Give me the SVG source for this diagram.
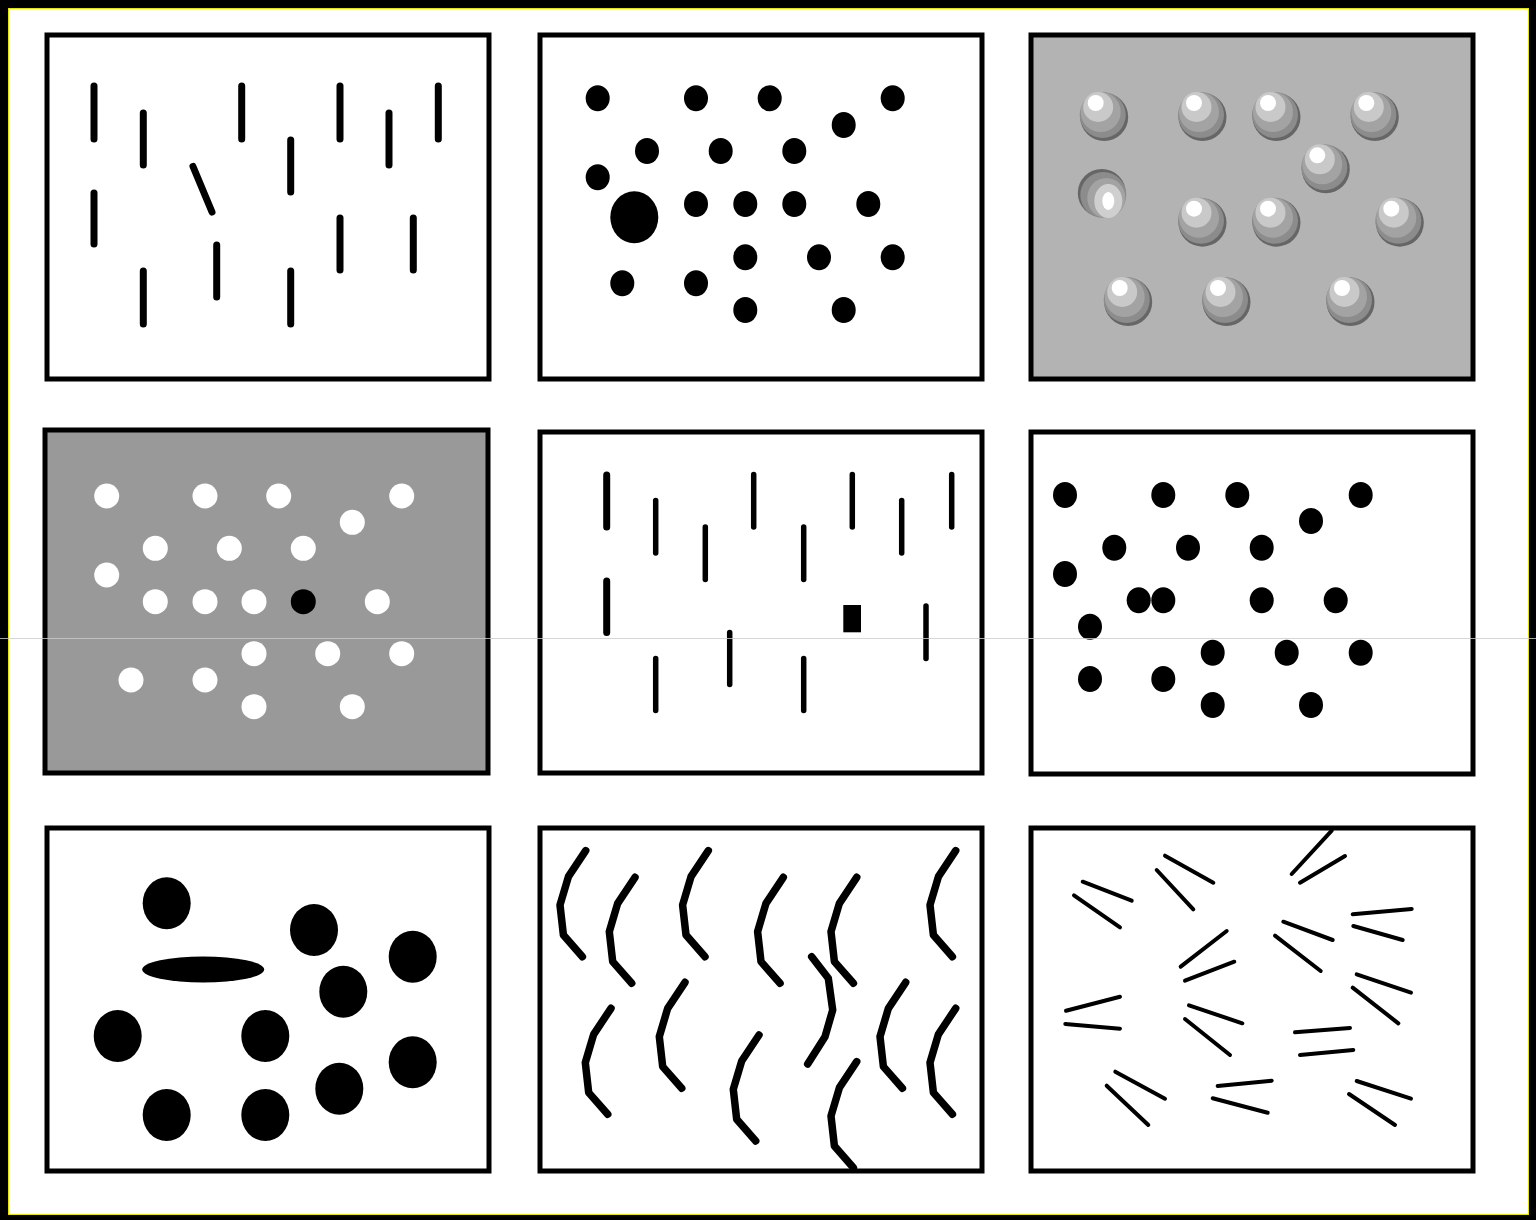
<svg xmlns="http://www.w3.org/2000/svg" width="1536" height="1220" viewBox="0 0 1536 1220">
<style>
.frame{fill:#fff;stroke:#000;stroke-width:5}
.bar{stroke:#000;stroke-width:7;stroke-linecap:round}
.tbar{stroke:#000;stroke-width:5.5;stroke-linecap:round}
.dot{fill:#000}
.wdot{fill:#fff}
.curve{fill:none;stroke:#000;stroke-width:7.5;stroke-linecap:round;stroke-linejoin:round}
.seg{stroke:#000;stroke-width:4;stroke-linecap:round}
</style>
<defs>
<g id="sph">
<circle cx="1.5" cy="2" r="24" fill="#666"/>
<circle cx="0" cy="0" r="23" fill="#8c8c8c"/>
<circle cx="-2" cy="-3" r="20" fill="#a3a3a3"/>
<circle cx="-4.5" cy="-8" r="15" fill="#c9c9c9"/>
<circle cx="-7" cy="-12" r="8" fill="#fff"/>
</g>
<path id="crv" d="M0,0 L-17.3,26 L-25.7,54.3 L-22.3,84.3 L-3.3,106"/>
</defs>
<rect x="0" y="0" width="1536" height="1220" fill="#000"/>
<rect x="8.5" y="8.5" width="1520" height="1206" fill="#fff" stroke="#e6e600" stroke-width="1"/>

<g id="panel-a">
<rect class="frame" x="47" y="35" width="442" height="344"/>
<line class="bar" x1="94" y1="86" x2="94" y2="139"/>
<line class="bar" x1="143.3" y1="113" x2="143.3" y2="165"/>
<line class="bar" x1="241.7" y1="86" x2="241.7" y2="139"/>
<line class="bar" x1="290.7" y1="140" x2="290.7" y2="192"/>
<line class="bar" x1="340" y1="86" x2="340" y2="139"/>
<line class="bar" x1="389" y1="113" x2="389" y2="165"/>
<line class="bar" x1="438.3" y1="86" x2="438.3" y2="139"/>
<line class="bar" x1="94" y1="193" x2="94" y2="244"/>
<line class="bar" x1="193" y1="166.5" x2="212" y2="212"/>
<line class="bar" x1="340" y1="218" x2="340" y2="270"/>
<line class="bar" x1="413.3" y1="218" x2="413.3" y2="270"/>
<line class="bar" x1="143.3" y1="271" x2="143.3" y2="324"/>
<line class="bar" x1="216.7" y1="245" x2="216.7" y2="297"/>
<line class="bar" x1="290.7" y1="271" x2="290.7" y2="324"/>
</g>

<g id="panel-b">
<rect class="frame" x="540" y="35" width="442" height="344"/>
<g class="dot">
<ellipse cx="597.7" cy="98.3" rx="12" ry="13"/>
<ellipse cx="696" cy="98.3" rx="12" ry="13"/>
<ellipse cx="769.7" cy="98.3" rx="12" ry="13"/>
<ellipse cx="892.7" cy="98.3" rx="12" ry="13"/>
<ellipse cx="843.7" cy="125" rx="12" ry="13"/>
<ellipse cx="647" cy="151" rx="12" ry="13"/>
<ellipse cx="720.7" cy="151" rx="12" ry="13"/>
<ellipse cx="794.3" cy="151" rx="12" ry="13"/>
<ellipse cx="597.7" cy="177.3" rx="12" ry="13"/>
<ellipse cx="634.3" cy="217.3" rx="24" ry="26"/>
<ellipse cx="696" cy="204" rx="12" ry="13"/>
<ellipse cx="745.3" cy="204" rx="12" ry="13"/>
<ellipse cx="794.3" cy="204" rx="12" ry="13"/>
<ellipse cx="868.3" cy="204" rx="12" ry="13"/>
<ellipse cx="745.3" cy="257.3" rx="12" ry="13"/>
<ellipse cx="819" cy="257.3" rx="12" ry="13"/>
<ellipse cx="892.7" cy="257.3" rx="12" ry="13"/>
<ellipse cx="622.3" cy="283.3" rx="12" ry="13"/>
<ellipse cx="696" cy="283.3" rx="12" ry="13"/>
<ellipse cx="745.3" cy="310" rx="12" ry="13"/>
<ellipse cx="843.7" cy="310" rx="12" ry="13"/>
</g>
</g>

<g id="panel-c">
<rect class="frame" x="1031" y="35" width="442" height="344" style="fill:#b3b3b3"/>
<use href="#sph" x="1102.7" y="115"/>
<use href="#sph" x="1201" y="115"/>
<use href="#sph" x="1275" y="115"/>
<use href="#sph" x="1373.3" y="115"/>
<use href="#sph" x="1324.3" y="167.3"/>
<use href="#sph" x="1201" y="220.7"/>
<use href="#sph" x="1275" y="220.7"/>
<use href="#sph" x="1398.3" y="220.7"/>
<use href="#sph" x="1126.7" y="300"/>
<use href="#sph" x="1225" y="300"/>
<use href="#sph" x="1349" y="300"/>
<g transform="translate(1103.3,195)">
<circle cx="-1.5" cy="-2" r="24" fill="#666"/>
<circle cx="0" cy="0" r="23" fill="#8c8c8c"/>
<ellipse cx="3" cy="3" rx="19" ry="20" fill="#a3a3a3"/>
<ellipse cx="5" cy="6" rx="14" ry="17" fill="#cfcfcf"/>
<ellipse cx="5" cy="6" rx="6" ry="9" fill="#fff"/>
</g>
</g>

<g id="panel-d">
<rect class="frame" x="45" y="430" width="443" height="343" style="fill:#999"/>
<g class="wdot">
<circle cx="106.7" cy="496" r="12.5"/>
<circle cx="205" cy="496" r="12.5"/>
<circle cx="278.7" cy="496" r="12.5"/>
<circle cx="401.7" cy="496" r="12.5"/>
<circle cx="352.3" cy="522.3" r="12.5"/>
<circle cx="155.3" cy="548.3" r="12.5"/>
<circle cx="229.3" cy="548.3" r="12.5"/>
<circle cx="303.3" cy="548.3" r="12.5"/>
<circle cx="106.7" cy="575" r="12.5"/>
<circle cx="155.3" cy="601.7" r="12.5"/>
<circle cx="205" cy="601.7" r="12.5"/>
<circle cx="254" cy="601.7" r="12.5"/>
<circle cx="377.3" cy="601.7" r="12.5"/>
<circle cx="254" cy="653.7" r="12.5"/>
<circle cx="327.7" cy="653.7" r="12.5"/>
<circle cx="401.7" cy="653.7" r="12.5"/>
<circle cx="131" cy="680" r="12.5"/>
<circle cx="205" cy="680" r="12.5"/>
<circle cx="254" cy="706.7" r="12.5"/>
<circle cx="352.3" cy="706.7" r="12.5"/>
</g>
<circle class="dot" cx="303.3" cy="601.7" r="12.5"/>
</g>

<g id="panel-e">
<rect class="frame" x="540" y="432" width="442" height="341"/>
<line class="bar" x1="606.7" y1="475" x2="606.7" y2="527"/>
<line class="tbar" x1="655.7" y1="500.5" x2="655.7" y2="553"/>
<line class="tbar" x1="705.3" y1="527" x2="705.3" y2="579.5"/>
<line class="tbar" x1="753.7" y1="474.5" x2="753.7" y2="527"/>
<line class="tbar" x1="803.7" y1="527" x2="803.7" y2="579.5"/>
<line class="tbar" x1="852.3" y1="474.5" x2="852.3" y2="527"/>
<line class="tbar" x1="901.7" y1="500.5" x2="901.7" y2="553"/>
<line class="tbar" x1="951.7" y1="474.5" x2="951.7" y2="527"/>
<line class="bar" x1="606.7" y1="581" x2="606.7" y2="632.5"/>
<rect x="843.3" y="605" width="17.7" height="27.3" fill="#000"/>
<line class="tbar" x1="926" y1="606" x2="926" y2="658.5"/>
<line class="tbar" x1="655.7" y1="658.5" x2="655.7" y2="710.5"/>
<line class="tbar" x1="729.7" y1="632.5" x2="729.7" y2="684.5"/>
<line class="tbar" x1="803.7" y1="658.5" x2="803.7" y2="710.5"/>
</g>

<g id="panel-f">
<rect class="frame" x="1031" y="432" width="442" height="342"/>
<g class="dot">
<ellipse cx="1065" cy="495" rx="12" ry="13"/>
<ellipse cx="1163.3" cy="495" rx="12" ry="13"/>
<ellipse cx="1237.3" cy="495" rx="12" ry="13"/>
<ellipse cx="1360.7" cy="495" rx="12" ry="13"/>
<ellipse cx="1311" cy="521" rx="12" ry="13"/>
<ellipse cx="1114.3" cy="547.7" rx="12" ry="13"/>
<ellipse cx="1188" cy="547.7" rx="12" ry="13"/>
<ellipse cx="1261.7" cy="547.7" rx="12" ry="13"/>
<ellipse cx="1065" cy="574" rx="12" ry="13"/>
<ellipse cx="1138.7" cy="600.3" rx="12" ry="13"/>
<ellipse cx="1163.3" cy="600.3" rx="12" ry="13"/>
<ellipse cx="1261.7" cy="600.3" rx="12" ry="13"/>
<ellipse cx="1335.7" cy="600.3" rx="12" ry="13"/>
<ellipse cx="1090" cy="626.7" rx="12" ry="13"/>
<ellipse cx="1212.7" cy="652.7" rx="12" ry="13"/>
<ellipse cx="1286.7" cy="652.7" rx="12" ry="13"/>
<ellipse cx="1360.7" cy="652.7" rx="12" ry="13"/>
<ellipse cx="1090" cy="679" rx="12" ry="13"/>
<ellipse cx="1163.3" cy="679" rx="12" ry="13"/>
<ellipse cx="1212.7" cy="705" rx="12" ry="13"/>
<ellipse cx="1311" cy="705" rx="12" ry="13"/>
</g>
</g>

<g id="panel-g">
<rect class="frame" x="47" y="828" width="442" height="343"/>
<g class="dot">
<ellipse cx="166.7" cy="903.3" rx="24" ry="26"/>
<ellipse cx="203.2" cy="969.5" rx="61" ry="13"/>
<ellipse cx="314" cy="930" rx="24" ry="26"/>
<ellipse cx="412.7" cy="956.7" rx="24" ry="26"/>
<ellipse cx="343.3" cy="991.7" rx="24" ry="26"/>
<ellipse cx="117.7" cy="1036" rx="24" ry="26"/>
<ellipse cx="265.3" cy="1036" rx="24" ry="26"/>
<ellipse cx="412.7" cy="1062.3" rx="24" ry="26"/>
<ellipse cx="339.3" cy="1088.7" rx="24" ry="26"/>
<ellipse cx="166.7" cy="1115" rx="24" ry="26"/>
<ellipse cx="265.3" cy="1115" rx="24" ry="26"/>
</g>
</g>

<g id="panel-h">
<rect class="frame" x="540" y="828" width="442" height="343"/>
<g class="curve">
<use href="#crv" x="585.7" y="850.7"/>
<use href="#crv" x="635" y="877.3"/>
<use href="#crv" x="708.3" y="850.7"/>
<use href="#crv" x="783.3" y="877.3"/>
<use href="#crv" x="856.7" y="877.3"/>
<use href="#crv" x="955.7" y="850.7"/>
<use href="#crv" x="611" y="1008.3"/>
<use href="#crv" x="685" y="982.3"/>
<use href="#crv" x="759" y="1035"/>
<use href="#crv" x="856.7" y="1061.7"/>
<use href="#crv" x="905.7" y="982.3"/>
<use href="#crv" x="955.7" y="1008.3"/>
<path d="M811.7,956.7 L828.3,978.3 L832.7,1010 L825,1036.7 L807.7,1064"/>
</g>
</g>

<g id="panel-i">
<rect class="frame" x="1031" y="828" width="442" height="343"/>
<g class="seg">
<line x1="1082.7" y1="881.7" x2="1131.7" y2="900.7"/>
<line x1="1074" y1="895.3" x2="1120" y2="927.3"/>
<line x1="1165" y1="855.7" x2="1213.3" y2="882.7"/>
<line x1="1156.7" y1="870" x2="1193.3" y2="909.3"/>
<line x1="1291.7" y1="874" x2="1331.7" y2="830.7"/>
<line x1="1300" y1="882.7" x2="1345" y2="856"/>
<line x1="1352.7" y1="914.3" x2="1411.7" y2="909"/>
<line x1="1353.3" y1="926" x2="1402.7" y2="940"/>
<line x1="1283.3" y1="921.7" x2="1332.7" y2="940"/>
<line x1="1275" y1="935.7" x2="1320.7" y2="971"/>
<line x1="1180.7" y1="966.7" x2="1226.7" y2="931"/>
<line x1="1185" y1="980.7" x2="1234.3" y2="961.7"/>
<line x1="1356.7" y1="974.3" x2="1411" y2="992.7"/>
<line x1="1352.7" y1="987.7" x2="1398.3" y2="1023.3"/>
<line x1="1066" y1="1010.7" x2="1120" y2="996.7"/>
<line x1="1065.3" y1="1024" x2="1120" y2="1028.7"/>
<line x1="1189" y1="1005.3" x2="1242.3" y2="1023.3"/>
<line x1="1185" y1="1019" x2="1230" y2="1055"/>
<line x1="1295" y1="1032.3" x2="1350" y2="1028"/>
<line x1="1300" y1="1055" x2="1353.3" y2="1050"/>
<line x1="1115.3" y1="1071.7" x2="1165" y2="1098.7"/>
<line x1="1106.7" y1="1085.7" x2="1148.3" y2="1125"/>
<line x1="1217.7" y1="1086" x2="1271.7" y2="1080.7"/>
<line x1="1212.7" y1="1098.3" x2="1267.7" y2="1112.7"/>
<line x1="1356.7" y1="1081" x2="1411" y2="1098.7"/>
<line x1="1349" y1="1094" x2="1395" y2="1125"/>
</g>
</g>

<line x1="0" y1="638.5" x2="1536" y2="638.5" stroke="#cccccc" stroke-width="1" opacity="0.8"/>
</svg>
